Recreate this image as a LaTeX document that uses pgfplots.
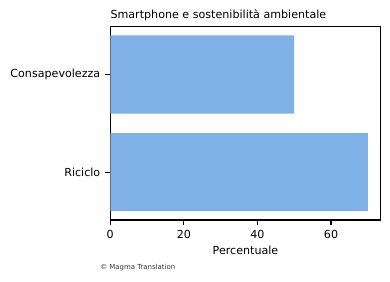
\documentclass[border=0pt]{standalone}
\usepackage{fontspec}
\setmainfont{DejaVu Sans}
\usepackage{pgfplots}
\pgfplotsset{compat=1.18}
\definecolor{barblue}{HTML}{7FB0E6}
\begin{document}
\begin{tikzpicture}
\begin{axis}[
  at={(0,0)}, anchor=south west,
  scale only axis,
  width=194.7pt, height=139.2pt,
  xbar, bar width=0.8,
  xmin=0, xmax=73.5,
  ymin=-0.49, ymax=1.49,
  xtick={0,20,40,60},
  ytick={0,1},
  yticklabels={Riciclo,Consapevolezza},
  xtick pos=bottom, ytick pos=left,
  tick align=outside,
  major tick length=3.5pt,
  major tick style={black, line width=0.8pt},
  axis line style={line width=0.8pt},
  /pgf/number format/assume math mode=true,
  tick label style={font=\fontsize{8}{9.6}\selectfont},
  xticklabel style={inner sep=0pt, yshift=-3.5pt},
  yticklabel style={inner sep=0pt, xshift=-3.5pt},
  xlabel={Percentuale},
  xlabel style={font=\fontsize{8}{9.6}\selectfont, inner sep=0pt, yshift=-5.5pt},
  clip=false,
]
\addplot[fill=barblue, draw=none] coordinates {(70,0) (50,1)};
\node[anchor=base west, inner sep=0pt, font=\fontsize{8}{9.6}\selectfont] at ([yshift=6pt]rel axis cs:0,1) {Smartphone e sostenibilità ambientale};
\end{axis}
\node[anchor=base west, inner sep=0pt, font=\fontsize{5}{6}\selectfont, text=black!80] at (-7.4pt,-36pt) {© Magma Translation};
\pgfresetboundingbox
\path[use as bounding box] (-79.4pt,-44.6pt) rectangle (201.4pt,158.4pt);
\end{tikzpicture}
\end{document}
